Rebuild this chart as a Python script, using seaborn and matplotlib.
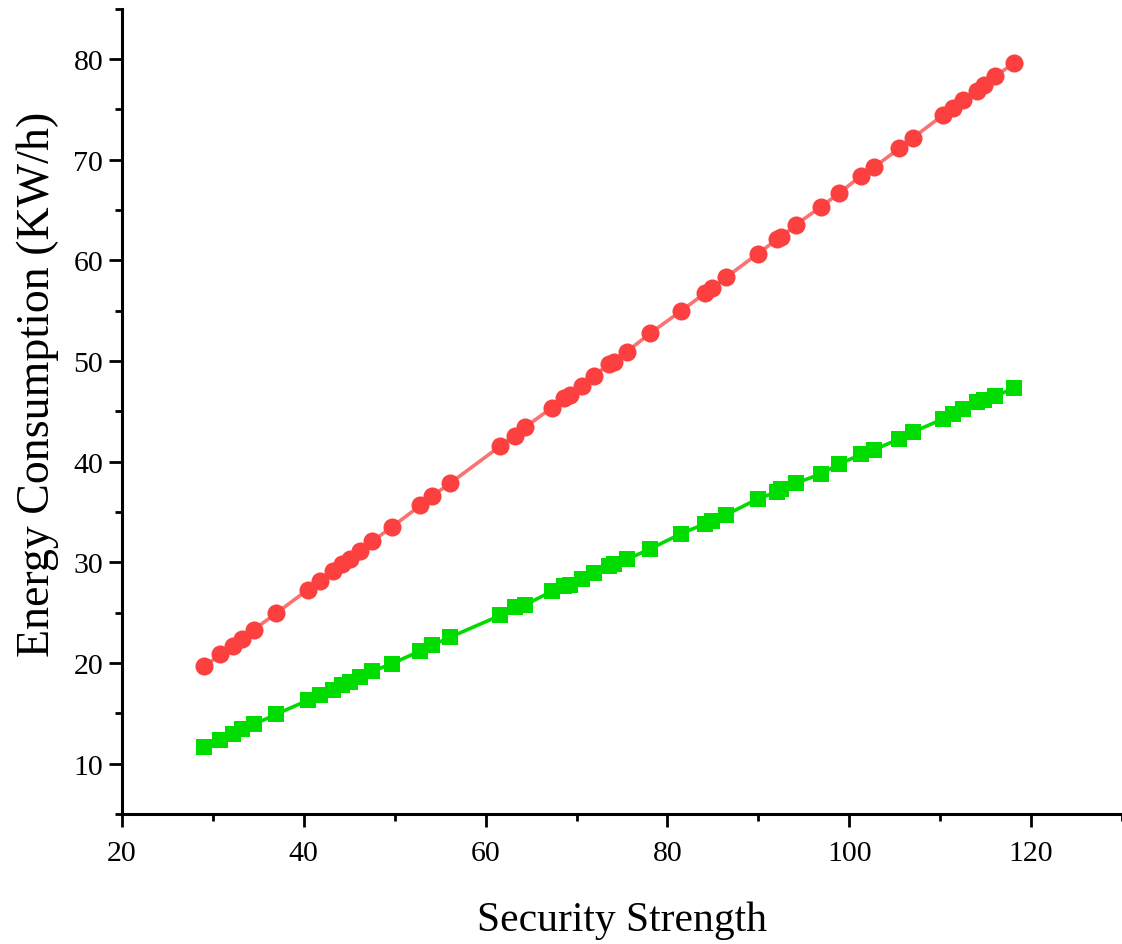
import matplotlib
matplotlib.use("Agg")
import matplotlib.pyplot as plt
import seaborn as sns
import pandas as pd
from matplotlib.ticker import MultipleLocator

security_strength = [29.07, 30.83, 32.23, 33.22, 34.49, 36.95, 40.43, 41.79, 43.22, 44.21,
                     45.05, 46.22, 47.54, 49.66, 52.82, 54.11, 56.12, 61.61, 63.19, 64.37,
                     67.26, 68.65, 69.31, 70.63, 71.95, 73.60, 74.15, 75.55, 78.11, 81.48,
                     84.16, 84.89, 86.47, 89.95, 92.07, 92.51, 94.13, 96.91, 98.92, 101.31,
                     102.77, 105.52, 106.99, 110.32, 111.39, 112.52, 114.03, 114.83, 116.07, 118.08]

energy_red = [19.66, 20.85, 21.69, 22.41, 23.31, 24.93, 27.28, 28.17, 29.14, 29.83,
              30.36, 31.15, 32.08, 33.50, 35.65, 36.58, 37.88, 41.55, 42.60, 43.44,
              45.35, 46.32, 46.64, 47.57, 48.56, 49.72, 49.95, 50.94, 52.77, 54.96,
              56.77, 57.24, 58.33, 60.68, 62.10, 62.35, 63.55, 65.34, 66.70, 68.42,
              69.29, 71.14, 72.17, 74.45, 75.14, 75.90, 76.86, 77.43, 78.29, 79.61]

energy_green = [11.62, 12.38, 12.98, 13.48, 13.90, 14.90, 16.29, 16.78, 17.28, 17.78,
                18.11, 18.61, 19.17, 19.93, 21.20, 21.75, 22.58, 24.73, 25.56, 25.79,
                27.11, 27.64, 27.78, 28.37, 28.97, 29.60, 29.85, 30.29, 31.35, 32.84,
                33.85, 34.15, 34.73, 36.32, 37.00, 37.25, 37.87, 38.80, 39.79, 40.72,
                41.21, 42.27, 42.94, 44.26, 44.76, 45.25, 45.92, 46.18, 46.51, 47.31]

sns.set_theme(style="ticks")
plt.rcParams['font.family'] = ['Liberation Serif', 'DejaVu Serif']

df_red = pd.DataFrame({"x": security_strength, "y": energy_red})
df_green = pd.DataFrame({"x": security_strength, "y": energy_green})

fig = plt.figure(figsize=(11.22, 9.45), dpi=100)
ax = fig.add_axes([0.1087, 0.1376, 0.8913, 0.852])

sns.lineplot(data=df_red, x="x", y="y", ax=ax, color="#FA7272", linewidth=2.6,
             marker="o", markersize=13, markerfacecolor="#FC3F3F",
             markeredgecolor="#FC3F3F", markeredgewidth=0, estimator=None, sort=False)
sns.lineplot(data=df_green, x="x", y="y", ax=ax, color="#00DC00", linewidth=2.6,
             marker="s", markersize=11.5, markerfacecolor="#00DC00",
             markeredgecolor="#00DC00", markeredgewidth=0, estimator=None, sort=False)

ax.set_xlim(20, 130)
ax.set_ylim(5, 85)
ax.xaxis.set_major_locator(MultipleLocator(20))
ax.xaxis.set_minor_locator(MultipleLocator(10))
ax.yaxis.set_major_locator(MultipleLocator(10))
ax.yaxis.set_minor_locator(MultipleLocator(5))
ax.set_yticks([10, 20, 30, 40, 50, 60, 70, 80])

for s in ["top", "right"]:
    ax.spines[s].set_visible(False)
for s in ["left", "bottom"]:
    ax.spines[s].set_linewidth(2.2)
    ax.spines[s].set_color("black")

ax.tick_params(axis="both", which="major", direction="out", length=9.5, width=2.0,
               labelsize=21.5, color="black", labelcolor="black")
ax.tick_params(axis="both", which="minor", direction="out", length=5, width=2.0, color="black")
ax.tick_params(axis="x", which="major", pad=9)
ax.tick_params(axis="y", which="major", pad=4)

ax.set_xlabel("Security Strength", fontsize=30, labelpad=25, color="black")
ax.set_ylabel("Energy Consumption (KW/h)", fontsize=33, labelpad=10, color="black", y=0.535)
ax.grid(False)

fig.savefig("out.png", dpi=100)
